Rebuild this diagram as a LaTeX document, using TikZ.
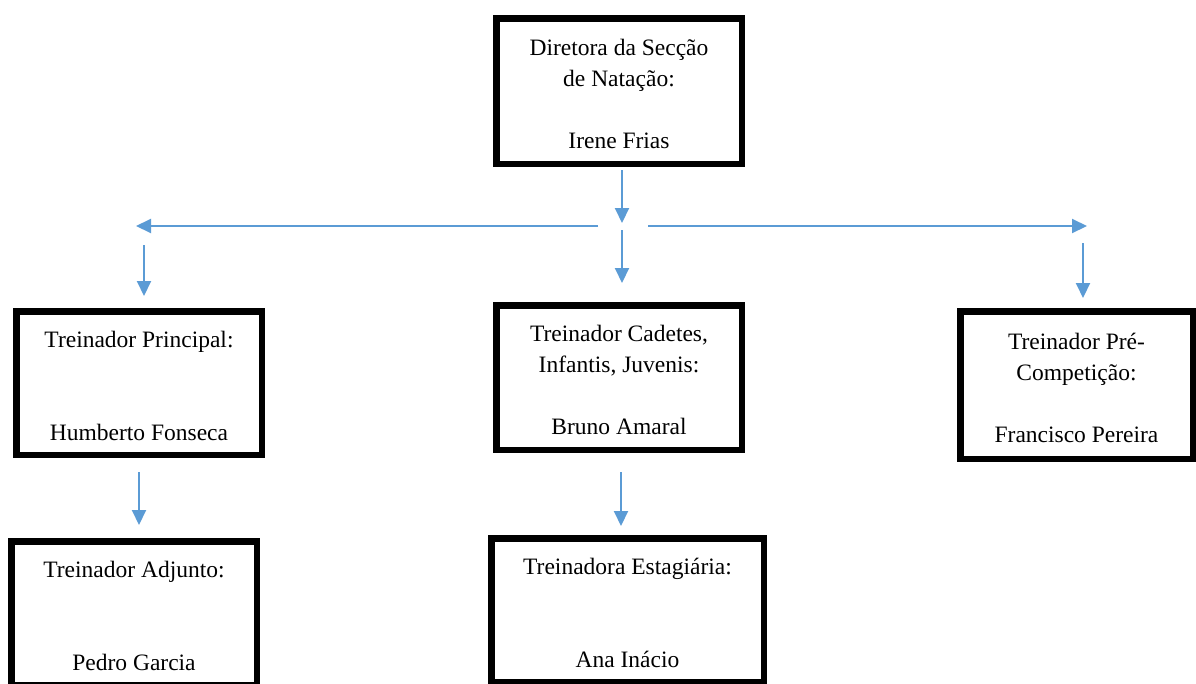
\documentclass[tikz,border=0pt]{standalone}
\usepackage{fontspec}
\setmainfont{Liberation Serif}
\usetikzlibrary{arrows.meta}
\definecolor{arrowblue}{RGB}{91,155,213}
\newcommand{\topstrut}{\rule{0pt}{22pt}}
\tikzset{
  box/.style={draw=black, line width=6.5pt, fill=white, align=center,
    font=\fontsize{23.5pt}{31pt}\selectfont, inner sep=0pt},
  arr/.style={draw=arrowblue, line width=2pt, -{Triangle[length=15pt,width=14pt]}}
}
\begin{document}
\begin{tikzpicture}[x=1pt,y=-1pt]
\useasboundingbox (0,0) rectangle (1196,683);
\clip (0,0) rectangle (1196,683);
\fill[white] (0,0) rectangle (1196,683);
% boxes
\node[box, minimum width=245.5pt, minimum height=145.5pt] (b0) at (619,91)
  {\topstrut Diretora da Secção\\de Natação:\\[31pt]Irene Frias};
\node[box, minimum width=245.5pt, minimum height=143.5pt] (b1) at (139,383)
  {\topstrut Treinador Principal:\\[62pt]Humberto Fonseca};
\node[box, minimum width=245.5pt, minimum height=144.5pt] (b2) at (619,377.5)
  {\topstrut Treinador Cadetes,\\Infantis, Juvenis:\\[31pt]Bruno Amaral};
\node[box, minimum width=232.5pt, minimum height=147.5pt] (b3) at (1076.5,385)
  {\topstrut Treinador Pré-\\Competição:\\[31pt]Francisco Pereira};
\node[box, minimum width=245.5pt, minimum height=143.5pt] (b4) at (134,613)
  {\topstrut Treinador Adjunto:\\[62pt]Pedro Garcia};
\node[box, minimum width=272.5pt, minimum height=143.5pt] (b5) at (627.5,610)
  {\topstrut Treinadora Estagiária:\\[62pt]Ana Inácio};
% free ends
\coordinate (hub) at (622,223);
\coordinate (hl0) at (598,226);
\coordinate (hl1) at (136,226);
\coordinate (hr0) at (648,226);
\coordinate (hr1) at (1087,226);
\coordinate (dm0) at (622,230);
\coordinate (dl0) at (144,245);
\coordinate (dr0) at (1083,243);
\coordinate (d4) at (139,472);
\coordinate (d5) at (621,472);
% connectors
\draw[arr, shorten <=3pt] ([xshift=3pt]b0.south) -- (hub);
\draw[arr] (hl0) -- (hl1);
\draw[arr] (hr0) -- (hr1);
\draw[arr, shorten >=19pt] (dm0) -- (dm0 |- b2.north);
\draw[arr, shorten >=12pt] (dl0) -- (dl0 |- b1.north);
\draw[arr, shorten >=10pt] (dr0) -- (dr0 |- b3.north);
\draw[arr, shorten >=13pt] (d4) -- (d4 |- b4.north);
\draw[arr, shorten >=9pt] (d5) -- (d5 |- b5.north);
\end{tikzpicture}
\end{document}
